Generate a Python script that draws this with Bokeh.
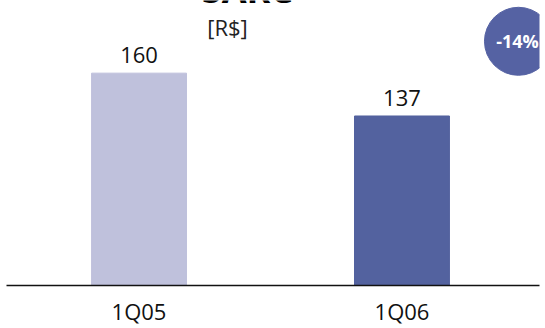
from bokeh.plotting import figure
from bokeh.models import Label, LabelSet, ColumnDataSource, FixedTicker
from bokeh.core.properties import value
from bokeh.embed import file_html
from bokeh.resources import INLINE

categories = ["1Q05", "1Q06"]
values = [160, 137]
colors = ["#BFC1DC", "#53629F"]
title_text = "SARC"
unit_text = "[R$]"
change_text = "-14%"
badge_color = "#5562A3"

FONT = "Open Sans"
xs = list(range(len(categories)))

src = ColumnDataSource(dict(x=xs, val=values, color=colors,
                            lab=[str(v) for v in values]))

p = figure(width=545, height=328, output_backend="svg", toolbar_location=None,
           x_range=(-0.504, 1.523), y_range=(46, 199),
           min_border_left=6, min_border_right=6,
           min_border_top=0, min_border_bottom=42)
p.outline_line_color = None
p.grid.visible = False
p.yaxis.visible = False

p.vbar(x="x", top="val", bottom=0, width=0.361, color="color", source=src)
p.add_layout(LabelSet(x="x", y="val", text="lab", source=src, text_align="center",
                      text_baseline="alphabetic", y_offset=10,
                      text_font=value(FONT), text_font_size=value("22px"),
                      text_color="#111111"))

ax = p.xaxis[0]
ax.ticker = FixedTicker(ticks=xs)
ax.major_label_overrides = {i: c for i, c in zip(xs, categories)}
ax.axis_line_color = "#111111"
ax.axis_line_width = 1.5
ax.major_tick_line_color = None
ax.minor_tick_line_color = None
ax.major_label_text_font = FONT
ax.major_label_text_font_size = "22px"
ax.major_label_text_color = "#111111"
ax.major_label_standoff = 4

# badge
p.scatter(x=[1.443], y=[177.1], size=68, marker="circle", color=badge_color)
p.add_layout(Label(x=511, y=245, x_units="screen", y_units="screen",
                   text=change_text, text_font=FONT, text_font_size="18px",
                   text_font_style="bold", text_color="white",
                   text_align="center", text_baseline="middle"))

p.add_layout(Label(x=241, y=296, x_units="screen", y_units="screen",
                   text=title_text, text_font=FONT, text_font_size="36px",
                   text_font_style="bold", text_align="center",
                   text_baseline="middle", text_color="#000000"))
p.add_layout(Label(x=221, y=259, x_units="screen", y_units="screen",
                   text=unit_text, text_font=FONT, text_font_size="22px",
                   text_align="center", text_baseline="middle",
                   text_color="#222222"))

open("out.html", "w").write(file_html(p, INLINE))
